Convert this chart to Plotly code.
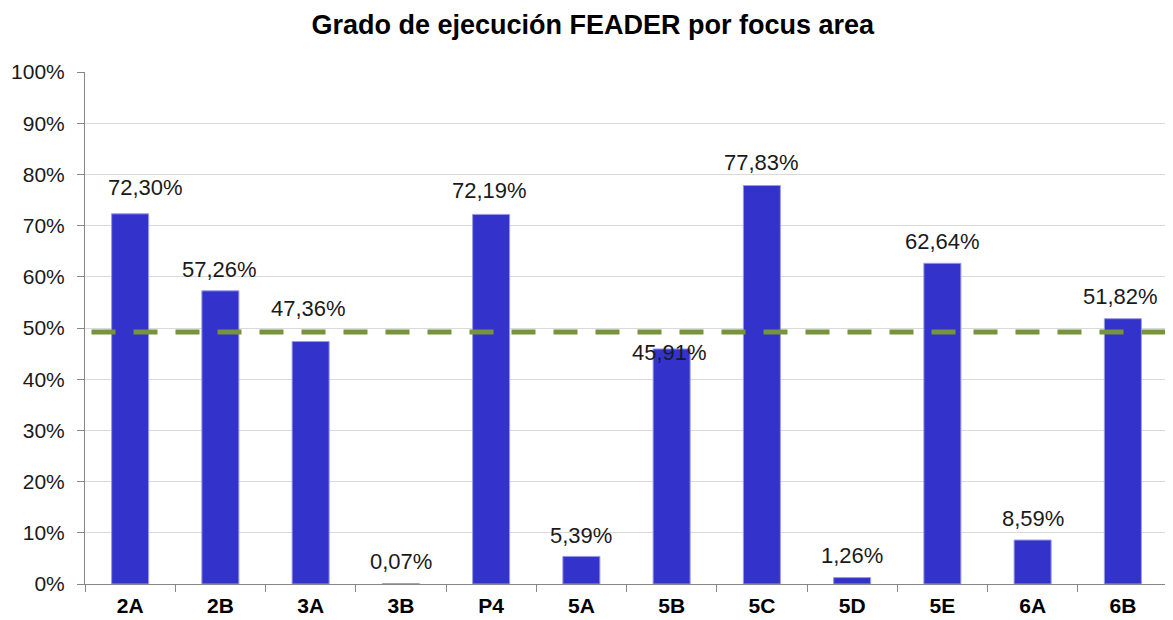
import plotly.graph_objects as go

categories = ["2A", "2B", "3A", "3B", "P4", "5A", "5B", "5C", "5D", "5E", "6A", "6B"]
values = [72.30, 57.26, 47.36, 0.07, 72.19, 5.39, 45.91, 77.83, 1.26, 62.64, 8.59, 51.82]
overall_rate = 49.2
y_ticks = [0, 10, 20, 30, 40, 50, 60, 70, 80, 90, 100]
y_tick_labels = [f"{t}%" for t in y_ticks]
title_text = "Grado de ejecución FEADER por focus area"

# label offsets (px) relative to the bar top centre
label_shift = [26, 21, 33, 22, 24, 21, -4, 23, 22, 22, 22, 22]
label_xshift = [15, -1, -2, 0, -2, 0, -2, 0, 0, 0, 0, -2]

FONT = "Liberation Sans, Arial, sans-serif"

fig = go.Figure()
fig.add_trace(go.Bar(
    x=categories, y=values,
    marker=dict(color="#3333CC", line=dict(color="#9A9AE6", width=1)),
    width=0.41,
    hoverinfo="x+y",
))

# overall rate dashed line
fig.add_shape(type="line", xref="paper", yref="y", x0=0.006, x1=1,
              y0=overall_rate, y1=overall_rate,
              line=dict(color="#77933C", width=5, dash="24px,18px"), layer="above")

for c, v, s, xs in zip(categories, values, label_shift, label_xshift):
    fig.add_annotation(x=c, y=v, text=f"{v:.2f}".replace(".", ",") + "%",
                       showarrow=False, yanchor="middle", yshift=s, xshift=xs,
                       font=dict(family=FONT, size=22, color="#1a1a1a"))

fig.update_layout(
    width=1173, height=620,
    margin=dict(l=77, r=13, t=64, b=44),
    plot_bgcolor="white", paper_bgcolor="white",
    showlegend=False,
    title=dict(text=f"<b>{title_text}</b>", x=0.4985, xanchor="center",
               y=0.973, yanchor="middle",
               font=dict(family=FONT, size=27, color="black")),
    xaxis=dict(
        automargin=False,
        showline=True, linecolor="#868686", linewidth=1,
        ticks="outside", ticklen=7, tickcolor="#868686",
        tickson="boundaries",
        tickfont=dict(family=FONT, size=21, color="black", weight="bold"),
        ticklabelstandoff=3,
        showgrid=False,
    ),
    yaxis=dict(
        automargin=False,
        range=[0, 100], tickvals=y_ticks, ticktext=y_tick_labels,
        showline=True, linecolor="#868686", linewidth=1,
        ticks="outside", ticklen=7, tickcolor="#868686",
        showgrid=True, gridcolor="#D9D9D9", gridwidth=1,
        tickfont=dict(family=FONT, size=21, color="#1a1a1a"),
        ticklabelstandoff=8,
        zeroline=False,
    ),
)

fig.write_html("out.html")
